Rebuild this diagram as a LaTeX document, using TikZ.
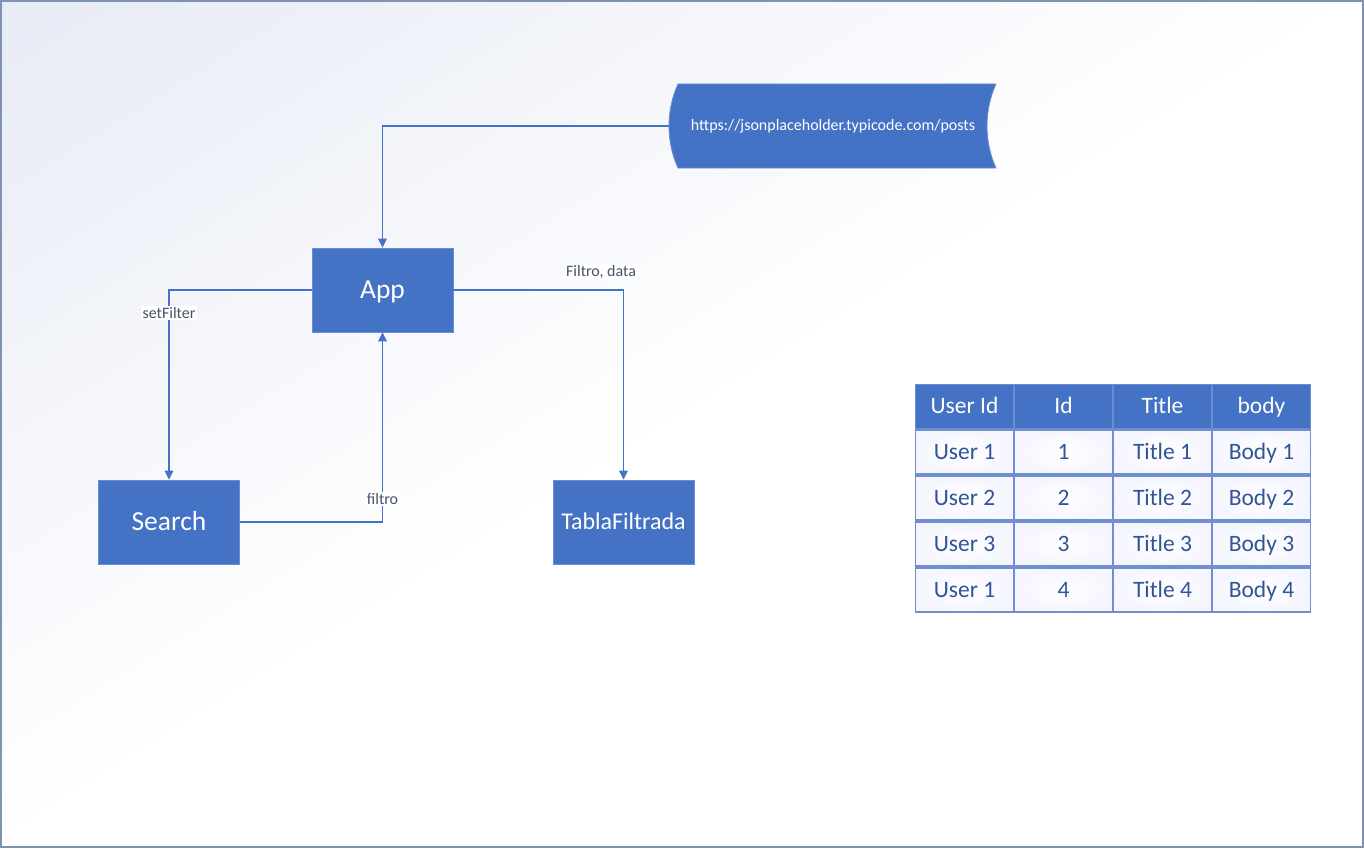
\documentclass[tikz,border=0pt]{standalone}
\usepackage{fontspec}
\setmainfont{Carlito}
\usetikzlibrary{arrows.meta,calc}

\definecolor{boxblue}{HTML}{4472C4}
\definecolor{boxedge}{HTML}{6B8ED3}
\definecolor{labtext}{HTML}{44546A}
\definecolor{celltext}{HTML}{2F5597}
\definecolor{celledge}{HTML}{6F8FCF}
\definecolor{bgtop}{HTML}{E7EBF5}
\definecolor{frame}{HTML}{7F92B2}

\tikzset{
  % text box sized so that capital letters sit centred in the shape
  capcenter/.style n args={2}{text height=#1, text depth=#2},
  blockbox/.style={rectangle, fill=boxblue, draw=boxedge, line width=0.8pt,
    text=white, minimum width=141pt, minimum height=84pt, inner sep=0pt},
  conn/.style={draw=boxblue, line width=1.6pt,
    -{Triangle[width=8.5pt,length=9pt]}},
  lab/.style={fill=white, text=labtext, inner sep=1.5pt,
    font=\fontsize{16}{19}\selectfont},
  cellbase/.style={rectangle, minimum width=98pt, minimum height=44pt, inner sep=0pt,
    font=\fontsize{23.5}{28}\selectfont, capcenter={18.8pt}{3.67pt}},
  headcell/.style={cellbase, fill=boxblue, draw=boxedge, line width=0.8pt, text=white},
  bodycell/.style={cellbase, inner color=white, outer color=black!4!blue!4!white,
    draw=celledge, line width=1.2pt, text=celltext},
}

\begin{document}
\begin{tikzpicture}[x=1pt,y=-1pt]
\useasboundingbox (0,0) rectangle (1364,848);

% page background: white, with a light blue fade from the top-left corner
% to the diagonal, built from narrow diagonal bands
\fill[white] (0,0) rectangle (1364,848);
\foreach \k in {0,...,59} {
  \pgfmathsetmacro{\ca}{\k/60}
  \pgfmathsetmacro{\cb}{(\k+1.3)/60}
  \pgfmathsetmacro{\pc}{100*(1-(\k+0.5)/60)}
  \fill[bgtop!\pc!white] ({\ca*1364},0) -- ({\cb*1364},0) -- (0,{\cb*848}) -- (0,{\ca*848}) -- cycle;
}
\draw[frame, line width=1.5pt] (1,1) rectangle (1363,847);

% stored-data shape behind the API address
\fill[boxblue, draw=boxedge, line width=0.8pt]
  (678,84) -- (996,84) .. controls (984,110) and (984,142) .. (996,168)
  -- (678,168) .. controls (666,142) and (666,110) .. (678,84) -- cycle;
\node[inner sep=0pt, minimum width=328pt, minimum height=84pt, text=white,
  font=\fontsize{16}{19}\selectfont] (api) at (833,126)
  {https://jsonplaceholder.typicode.com/posts};

% components
\node[blockbox, font=\fontsize{27.5}{32}\selectfont, capcenter={22pt}{4.29pt}]
  (app) at (382.5,290) {App};
\node[blockbox, font=\fontsize{27.5}{32}\selectfont, capcenter={22pt}{4.29pt}]
  (search) at (169,522) {Search};
\node[blockbox, font=\fontsize{24}{28}\selectfont, capcenter={19.2pt}{3.74pt}]
  (tabla) at (623.5,522) {TablaFiltrada};

% data flow
\draw[conn] (api.west) -| (app.north);
\draw[conn] (app.west) -| (search.north) node[lab, pos=0.56] {setFilter};
\draw[conn] (search.east) -| (app.south) node[lab, pos=0.561] {filtro};
\draw[conn] (app.east) -| (tabla.north) node[lab, pos=0.434, above=9pt] {Filtro, data};

% sample data table
\foreach \h [count=\c from 0] in {User Id, Id, Title, body}
  \node[headcell] (cell-0-\c) at ({964.5+99*\c},406) {\h};
\foreach \u/\i/\t/\b [count=\r] in {User 1/1/Title 1/Body 1, User 2/2/Title 2/Body 2,
    User 3/3/Title 3/Body 3, User 1/4/Title 4/Body 4} {
  \node[bodycell] (cell-\r-0) at (964.5,{406+46*\r}) {\u};
  \node[bodycell] (cell-\r-1) at (1063.5,{406+46*\r}) {\i};
  \node[bodycell] (cell-\r-2) at (1162.5,{406+46*\r}) {\t};
  \node[bodycell] (cell-\r-3) at (1261.5,{406+46*\r}) {\b};
}
\end{tikzpicture}
\end{document}
